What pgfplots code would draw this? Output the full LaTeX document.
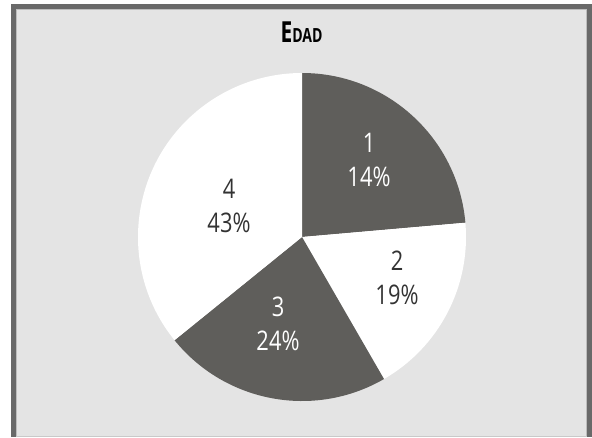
\documentclass[border=0pt]{standalone}
\usepackage{pgfplots}
\pgfplotsset{compat=1.18}
\usepackage{fontspec}
\setmainfont{Open Sans}[FakeStretch=0.81]
\newfontfamily\titlefont{Open Sans}[FakeStretch=0.72]
\definecolor{piedark}{HTML}{5F5E5B}
\definecolor{panel}{HTML}{E4E4E4}
\definecolor{frame}{HTML}{696969}
\definecolor{frameedge}{HTML}{BDBDBD}
\definecolor{labeldark}{HTML}{333333}
\begin{document}
\begin{tikzpicture}
\begin{axis}[hide axis, scale only axis, width=592pt, height=437pt,
  xmin=0, xmax=592, ymin=0, ymax=437, clip=false]
% frame and panel
\fill[white] (axis cs:0,0) rectangle (axis cs:592,437);
\fill[frame] (axis cs:10.7,0) rectangle (axis cs:592,433.3);
\fill[panel] (axis cs:16,0) rectangle (axis cs:587,428);
\draw[frameedge, line width=1pt] (axis cs:16.5,0) -- (axis cs:16.5,427.5) -- (axis cs:586.5,427.5) -- (axis cs:586.5,0);
\draw[frameedge!70!panel, line width=1pt] (axis cs:16,0.5) -- (axis cs:587,0.5);
% pie slices: start angle / end angle / colour
\foreach \s/\e/\c in {90/5/piedark, 5/-60/white, -60/-141/piedark, -141/-270/white}{
  \edef\tmp{\noexpand\fill[\c] (axis cs:302,200) -- ++(\s:164pt) arc[start angle=\s, end angle=\e, radius=164pt] -- cycle;}
  \tmp
}
% slice labels: x / y / colour / category / percent
\foreach \x/\y/\c/\n/\p in {369/277/white/1/14, 397/159/labeldark/2/19, 278/113/white/3/24, 229/231/labeldark/4/43}{
  \edef\tmp{\noexpand\node[text=\c, align=center, font=\noexpand\fontsize{27}{34}\noexpand\selectfont] at (axis cs:\x,\y) {\n\noexpand\\\p\noexpand\%};}
  \tmp
}
\node[font=\titlefont\bfseries] at (axis cs:301.5,405) {\fontsize{29}{30}\selectfont E\fontsize{19.5}{20}\selectfont DAD};
\end{axis}
\end{tikzpicture}
\end{document}
